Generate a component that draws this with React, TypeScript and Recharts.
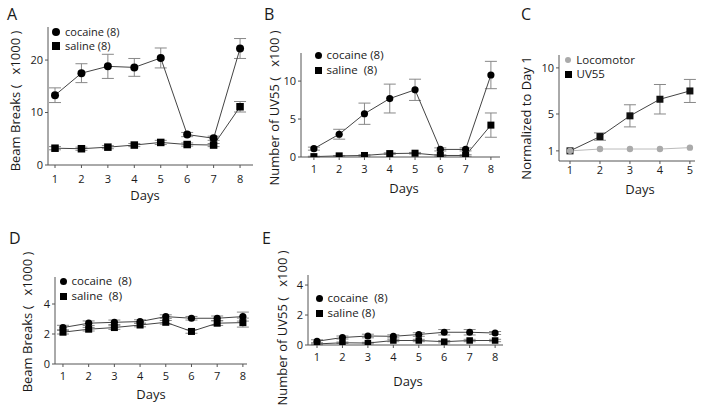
import React from 'react'
import { LineChart, Line, XAxis, YAxis, ErrorBar } from 'recharts'

// days on the x axis
const days8 = [1, 2, 3, 4, 5, 6, 7, 8]
const days5 = [1, 2, 3, 4, 5]

// A - beam breaks (x1000), cocaine vs saline
const aCocaine = [13.3, 17.5, 18.8, 18.6, 20.4, 5.8, 5.1, 22.2]
const aCocaineErr = [1.4, 1.8, 2.3, 1.7, 1.9, 0.4, 0.4, 1.9]
const aSaline = [3.2, 3.1, 3.4, 3.8, 4.3, 3.9, 3.8, 11.1]
const aSalineErr = [0.3, 0.3, 0.3, 0.3, 0.4, 0.3, 0.3, 1.0]

// B - number of UV55 (x100)
const bCocaine = [1.1, 3.0, 5.7, 7.7, 8.85, 1.0, 1.0, 10.8]
const bCocaineErr = [0.2, 0.65, 1.4, 1.9, 1.4, 0.2, 0.2, 1.8]
const bSaline = [0.05, 0.15, 0.2, 0.45, 0.5, 0.2, 0.2, 4.2]
const bSalineErr = [0.05, 0.05, 0.1, 0.1, 0.1, 0.1, 0.1, 1.6]

// C - normalized to day 1
const cLocomotor = [1.0, 1.2, 1.2, 1.2, 1.35]
const cUv55 = [1.0, 2.55, 4.8, 6.6, 7.5]
const cUv55Err = [0, 0.4, 1.2, 1.6, 1.25]

// D - beam breaks (x1000), second experiment
const dCocaine = [2.43, 2.72, 2.78, 2.83, 3.16, 3.05, 3.05, 3.16]
const dCocaineErr = [0.15, 0.15, 0.15, 0.12, 0.12, 0.12, 0.15, 0.3]
const dSaline = [2.12, 2.32, 2.43, 2.6, 2.78, 2.17, 2.72, 2.76]
const dSalineErr = [0.12, 0.12, 0.12, 0.12, 0.12, 0.12, 0.15, 0.3]

// E - number of UV55 (x100), second experiment
const eCocaine = [0.25, 0.5, 0.6, 0.58, 0.7, 0.85, 0.85, 0.8]
const eCocaineErr = [0.1, 0.1, 0.12, 0.1, 0.12, 0.18, 0.18, 0.1]
const eSaline = [0.07, 0.15, 0.13, 0.3, 0.3, 0.22, 0.3, 0.3]
const eSalineErr = [0.05, 0.05, 0.05, 0.08, 0.08, 0.08, 0.08, 0.08]

const FONT = '"Open Sans", "DejaVu Sans", sans-serif'
const INK = '#1a1a1a'
const LINE = '#444'
const ERR = '#888'
const GREY = '#aaaaaa'

const Y_W = 30
const X_H = 25

const circleDot = (r: number, fill: string) => (p: any) =>
  <circle key={`c-${p.index}`} cx={p.cx} cy={p.cy} r={r} fill={fill} />

const squareDot = (s: number, fill: string) => (p: any) =>
  <rect key={`s-${p.index}`} x={p.cx - s / 2} y={p.cy - s / 2} width={s} height={s} fill={fill} />

function build(days: number[], cols: Record<string, number[]>) {
  return days.map((d, i) => {
    const row: any = { day: d }
    Object.keys(cols).forEach((k) => { row[k] = cols[k][i] })
    return row
  })
}

interface SeriesDef {
  key: string
  err?: string
  stroke: string
  dot: any
}

interface PanelProps {
  data: any[]
  box: [number, number, number, number] // x0, y0, x1, y1 of plot area
  xDomain: [number, number]
  xTicks: number[]
  yDomain: [number, number]
  yTicks: number[]
  xTickMargin: number
  series: SeriesDef[]
}

function Panel({ data, box, xDomain, xTicks, yDomain, yTicks, xTickMargin, series }: PanelProps) {
  const [x0, y0, x1, y1] = box
  return (
    <div style={{ position: 'absolute', left: 0, top: 0 }}>
      <LineChart
        width={707}
        height={410}
        data={data}
        margin={{ top: y0, left: x0 - Y_W, right: 707 - x1, bottom: 410 - y1 - X_H }}
      >
        <XAxis
          dataKey="day"
          type="number"
          domain={xDomain}
          ticks={xTicks}
          height={X_H}
          allowDataOverflow
          tickSize={3}
          tickMargin={xTickMargin}
          stroke="#555"
          tick={{ fill: INK, fontSize: 11, fontFamily: FONT }}
        />
        <YAxis
          type="number"
          domain={yDomain}
          ticks={yTicks}
          width={Y_W}
          allowDataOverflow
          tickSize={3}
          tickMargin={2}
          stroke="#555"
          tick={{ fill: INK, fontSize: 11, fontFamily: FONT }}
        />
        {series.map((s) => (
          <Line
            key={s.key}
            type="linear"
            dataKey={s.key}
            stroke={s.stroke}
            strokeWidth={1}
            dot={s.dot}
            activeDot={false}
            isAnimationActive={false}
          >
            {s.err && <ErrorBar dataKey={s.err} direction="y" width={6} stroke={ERR} strokeWidth={1} />}
          </Line>
        ))}
      </LineChart>
    </div>
  )
}

const text = (t: string, x: number, y: number, size: number, extra: React.CSSProperties = {}) => (
  <div
    style={{
      position: 'absolute', left: x, top: y, fontSize: size, fontFamily: FONT, color: INK,
      lineHeight: 1, whiteSpace: 'pre', ...extra,
    }}
  >
    {t}
  </div>
)

const centered = (t: string, cx: number, cy: number, size: number) =>
  text(t, cx, cy, size, { transform: 'translate(-50%, -50%)' })

const rotated = (t: string, cx: number, cy: number, size: number) =>
  text(t, cx, cy, size, { transform: 'translate(-50%, -50%) rotate(-90deg)' })

function LegendItem({ x, y, shape, size, color, label, fontSize = 11.5 }: any) {
  return (
    <>
      <div
        style={{
          position: 'absolute', left: x - size / 2, top: y - size / 2,
          width: size, height: size, background: color,
          borderRadius: shape === 'circle' ? '50%' : 0,
        }}
      />
      {text(label, x + size / 2 + 5, y - fontSize * 0.55, fontSize)}
    </>
  )
}

export default function App() {
  const dataA = build(days8, { coc: aCocaine, cocErr: aCocaineErr, sal: aSaline, salErr: aSalineErr })
  const dataB = build(days8, { coc: bCocaine, cocErr: bCocaineErr, sal: bSaline, salErr: bSalineErr })
  const dataC = build(days5, { loco: cLocomotor, uv: cUv55, uvErr: cUv55Err })
  const dataD = build(days8, { coc: dCocaine, cocErr: dCocaineErr, sal: dSaline, salErr: dSalineErr })
  const dataE = build(days8, { coc: eCocaine, cocErr: eCocaineErr, sal: eSaline, salErr: eSalineErr })

  return (
    <div style={{ position: 'absolute', left: 0, top: 0, width: 707, height: 410, background: '#fff', overflow: 'hidden' }}>
      {/* A */}
      <Panel
        data={dataA}
        box={[48, 27, 253, 165]}
        xDomain={[0.735, 8.49]}
        xTicks={days8}
        yDomain={[0, 26.3]}
        yTicks={[0, 10, 20]}
        xTickMargin={7}
        series={[
          { key: 'sal', err: 'salErr', stroke: LINE, dot: squareDot(7.5, '#000') },
          { key: 'coc', err: 'cocErr', stroke: LINE, dot: circleDot(4, '#000') },
        ]}
      />
      {/* B */}
      <Panel
        data={dataB}
        box={[301, 53, 500, 157]}
        xDomain={[0.49, 8.36]}
        xTicks={days8}
        yDomain={[0, 13.7]}
        yTicks={[0, 5, 10]}
        xTickMargin={5}
        series={[
          { key: 'sal', err: 'salErr', stroke: LINE, dot: squareDot(7, '#000') },
          { key: 'coc', err: 'cocErr', stroke: LINE, dot: circleDot(3.6, '#000') },
        ]}
      />
      {/* C */}
      <Panel
        data={dataC}
        box={[559, 55, 695, 161]}
        xDomain={[0.633, 5.17]}
        xTicks={days5}
        yDomain={[-0.1, 11.4]}
        yTicks={[1, 5, 10]}
        xTickMargin={2}
        series={[
          { key: 'uv', err: 'uvErr', stroke: LINE, dot: squareDot(7, '#111') },
          { key: 'loco', stroke: '#bbb', dot: circleDot(3.2, GREY) },
        ]}
      />
      {/* D */}
      <Panel
        data={dataD}
        box={[55, 277, 247, 364]}
        xDomain={[0.69, 8.16]}
        xTicks={days8}
        yDomain={[0, 5.8]}
        yTicks={[0, 2, 4]}
        xTickMargin={5}
        series={[
          { key: 'sal', err: 'salErr', stroke: LINE, dot: squareDot(7, '#000') },
          { key: 'coc', err: 'cocErr', stroke: LINE, dot: circleDot(3.6, '#000') },
        ]}
      />
      {/* E */}
      <Panel
        data={dataE}
        box={[308, 275, 503, 345]}
        xDomain={[0.646, 8.31]}
        xTicks={days8}
        yDomain={[0, 4.67]}
        yTicks={[0, 2, 4]}
        xTickMargin={5}
        series={[
          { key: 'sal', err: 'salErr', stroke: LINE, dot: squareDot(6.5, '#000') },
          { key: 'coc', err: 'cocErr', stroke: LINE, dot: circleDot(3.5, '#000') },
        ]}
      />

      {/* panel letters */}
      {text('A', 7, 6, 16)}
      {text('B', 264, 6, 16)}
      {text('C', 521, 6, 16)}
      {text('D', 9, 230, 16)}
      {text('E', 262, 230, 16)}

      {/* axis titles */}
      {centered('Days', 145, 195, 13)}
      {centered('Days', 404, 188, 13)}
      {centered('Days', 640, 189, 13)}
      {centered('Days', 151, 394, 13)}
      {centered('Days', 408, 381, 13)}

      {rotated('Beam Breaks (   x1000 )', 15, 101, 13)}
      {rotated('Number of UV55 (   x100 )', 274, 108, 13)}
      {rotated('Normalized to Day 1', 526, 118, 13)}
      {rotated('Beam Breaks (   x1000 )', 27, 322, 13)}
      {rotated('Number of UV55 (   x100 )', 282, 328, 13)}

      {/* legends */}
      <LegendItem x={56} y={32} shape="circle" size={8} color="#000" label="cocaine (8)" fontSize={11} />
      <LegendItem x={56} y={46} shape="square" size={8} color="#000" label="saline (8)" fontSize={11} />
      <LegendItem x={318} y={55} shape="circle" size={7} color="#000" label="cocaine (8)" />
      <LegendItem x={318} y={70} shape="square" size={7} color="#000" label="saline  (8)" />
      <LegendItem x={568} y={60} shape="circle" size={6.5} color={GREY} label="Locomotor" />
      <LegendItem x={568} y={74} shape="square" size={7} color="#000" label="UV55" />
      <LegendItem x={63} y={281} shape="circle" size={7} color="#000" label="cocaine  (8)" />
      <LegendItem x={63} y={296} shape="square" size={7} color="#000" label="saline  (8)" />
      <LegendItem x={319} y={298} shape="circle" size={7} color="#000" label="cocaine  (8)" />
      <LegendItem x={319} y={313} shape="square" size={7} color="#000" label="saline (8)" />
    </div>
  )
}
